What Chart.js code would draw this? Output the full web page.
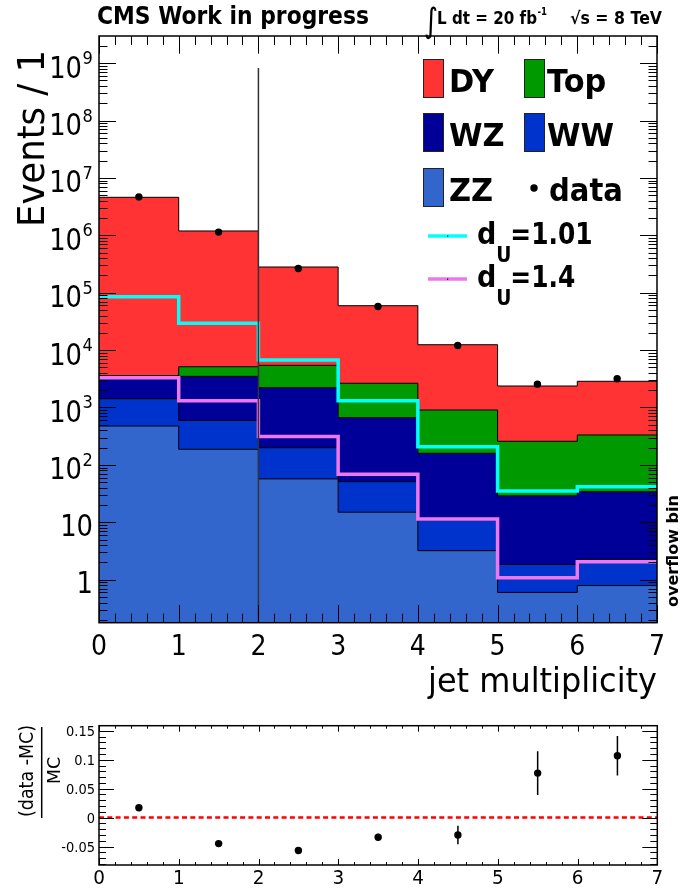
<!DOCTYPE html>
<html>
<head>
<meta charset="utf-8">
<script src="https://cdn.jsdelivr.net/npm/chart.js@4.4.1/dist/chart.umd.min.js"></script>
<style>
    html, body { margin: 0; padding: 0; background: #fff; }
    #wrap { position: relative; width: 680px; height: 888px; overflow: hidden; }
    canvas { position: absolute; left: 0; }
    #main { top: 0; }
    #ratio { top: 700px; }
</style>
</head>
<body>
<div id="wrap">
    <canvas id="main" width="680" height="700"></canvas>
    <canvas id="ratio" width="680" height="188"></canvas>
</div>
<script>
// binning (jet multiplicity, last bin holds overflow)
const binEdges = [0, 1, 2, 3, 4, 5, 6, 7];
const binCenters = [0.5, 1.5, 2.5, 3.5, 4.5, 5.5, 6.5];

// background contributions per bin, stacked bottom -> top
const procNames = ['ZZ', 'WW', 'WZ', 'Top', 'DY'];
const zzCounts  = [476, 187, 57, 15, 3.2, 0.60, 0.79];
const wwCounts  = [944, 411, 142, 36, 7.8, 1.25, 1.48];
const wzCounts  = [2160, 2890, 2010, 613, 148, 27, 31.7];
const topCounts = [0, 1640, 3230, 1980, 745, 229, 298];
const dyCounts  = [4.59e6, 1.185e6, 2.75e5, 5.67e4, 11500, 2110, 2530];

// observed data
const dataCounts = [4.67e6, 1.137e6, 2.64e5, 5.74e4, 12030, 2550, 3170];

// unparticle signals
const sigNames = ['1.01', '1.4'];
const sig101 = [85000, 29300, 6720, 1313, 207, 35, 41.7];
const sig14  = [3300, 1310, 311, 69, 11.4, 1.08, 2.06];

// cut marker at 2 jets
const cutX = 2;
const cutTop = 8.2e8;

// ratio panel (data - MC) / MC
const ratioVals = [0.017, -0.045, -0.057, -0.034, -0.030, 0.077, 0.107];
const ratioErrs = [0.002, 0.003, 0.004, 0.006, 0.016, 0.038, 0.034];
const ratioTickVals = [-0.05, 0, 0.05, 0.1, 0.15];
const ratioTickLabels = ['-0.05', '0', '0.05', '0.1', '0.15'];
const refLevel = 0;

const FONT = '"DejaVu Sans", "Liberation Sans", sans-serif';

// step histogram points: value of bin i holds from edge i to edge i+1
function stepPts(vals) {
    const pts = vals.map((v, i) => ({ x: binEdges[i], y: v }));
    pts.push({ x: binEdges[binEdges.length - 1], y: vals[vals.length - 1] });
    return pts;
}

// cumulative stack
const layers = [zzCounts, wwCounts, wzCounts, topCounts, dyCounts];
const stacks = [];
layers.forEach((arr, k) => {
    stacks.push(arr.map((v, i) => v + (k ? stacks[k - 1][i] : 0)));
});
const procColors = ['#3366cc', '#0033cc', '#000099', '#009900', '#ff3333'];

function txt(ctx, s, x, y, size, opts = {}) {
    ctx.save();
    ctx.font = (opts.bold ? 'bold ' : '') + size + 'px ' + FONT;
    ctx.translate(x, y);
    if (opts.rot) ctx.rotate(opts.rot);
    const w = ctx.measureText(s).width;
    const sx = opts.w ? opts.w / w : (opts.sx || 1);
    ctx.scale(sx, 1);
    ctx.textAlign = opts.align || 'left';
    ctx.textBaseline = 'alphabetic';
    ctx.fillStyle = '#000';
    ctx.fillText(s, 0, 0);
    ctx.restore();
    return w * sx;
}

const procDatasets = procNames.map((name, k) => ({
    label: name,
    data: stepPts(stacks[k]),
    stepped: true,
    borderColor: '#000',
    borderWidth: 1,
    backgroundColor: procColors[k],
    fill: 'start',
    pointRadius: 0,
}));

const mainDeco = {
    id: 'mainDeco',
    afterDraw(chart) {
        const { ctx, chartArea: a, scales: { x, y } } = chart;
        ctx.save();
        ctx.strokeStyle = '#000';
        ctx.lineWidth = 1;
        ctx.beginPath();
        for (let i = 0; i <= 35; i++) {
            const px = Math.round(x.getPixelForValue(i / 5)) + 0.5;
            const len = i % 5 === 0 ? 17.7 : 9;
            ctx.moveTo(px, a.bottom); ctx.lineTo(px, a.bottom - len);
            ctx.moveTo(px, a.top); ctx.lineTo(px, a.top + len);
        }
        for (let e = -1; e <= 9; e++) {
            for (let k = 1; k <= 9; k++) {
                const v = k * Math.pow(10, e);
                if (v < y.min || v > y.max) continue;
                const py = Math.round(y.getPixelForValue(v)) + 0.5;
                const len = k === 1 ? 17 : 8.5;
                ctx.moveTo(a.left, py); ctx.lineTo(a.left + len, py);
                ctx.moveTo(a.right, py); ctx.lineTo(a.right - len, py);
            }
        }
        ctx.stroke();
        ctx.lineWidth = 1.5;
        ctx.strokeRect(a.left, a.top, a.right - a.left, a.bottom - a.top);

        // y labels
        for (let e = 0; e <= 9; e++) {
            const py = y.getPixelForValue(Math.pow(10, e));
            if (e < 2) {
                txt(ctx, e === 0 ? '1' : '10', 93, py + 13.5, 30, { align: 'right', sx: 0.86 });
            } else {
                txt(ctx, '10', 82, py + 14.5, 30, { align: 'right', sx: 0.86 });
                txt(ctx, String(e), 82.5, py + 1, 18, { sx: 0.9 });
            }
        }
        // x labels
        binEdges.forEach(v => {
            txt(ctx, String(v), x.getPixelForValue(v), 655, 28, { align: 'center', sx: 0.9 });
        });
        txt(ctx, 'jet multiplicity', 657, 692, 33, { align: 'right', w: 229 });
        txt(ctx, 'Events / 1', 44, 227, 38, { rot: -Math.PI / 2, w: 177 });
        txt(ctx, 'overflow bin', 678, 607, 16, { rot: -Math.PI / 2, bold: true, w: 112 });

        // header
        txt(ctx, 'CMS Work in progress', 97, 24, 25, { bold: true, w: 272 });
        txt(ctx, '\u222B', 424, 32, 34, { sx: 0.8 });
        txt(ctx, 'L dt = 20 fb', 437, 24, 17, { bold: true, w: 100 });
        txt(ctx, '-1', 537.5, 15, 11, { bold: true, w: 9.5 });
        txt(ctx, '\u221As = 8 TeV', 570, 24, 17, { bold: true, w: 92 });

        // legend
        const ds = chart.data.datasets;
        const byLabel = l => ds.find(d => d.label === l);
        const boxes = [
            ['DY', 423, 59, 449], ['Top', 524, 59, 547],
            ['WZ', 423, 113, 449], ['WW', 524, 113, 547],
            ['ZZ', 423, 168, 449],
        ];
        boxes.forEach(([lab, bx, by, tx]) => {
            ctx.fillStyle = byLabel(lab).backgroundColor;
            ctx.fillRect(bx, by, 20, 38);
            ctx.lineWidth = 1;
            ctx.strokeStyle = '#222';
            ctx.strokeRect(bx + 0.5, by + 0.5, 20, 38);
            txt(ctx, lab, tx, by + 33, 32, { bold: true, sx: 0.95 });
        });
        ctx.fillStyle = '#000';
        ctx.beginPath();
        ctx.arc(534, 188, 3.7, 0, Math.PI * 2);
        ctx.fill();
        txt(ctx, 'data', 549, 201, 32, { bold: true, w: 74 });

        [[sigNames[0], 236, 244], [sigNames[1], 279, 287]].forEach(([nm, ly, base], j) => {
            const d = byLabel('dU=' + nm);
            ctx.strokeStyle = d.borderColor;
            ctx.lineWidth = 3.3;
            ctx.beginPath();
            ctx.moveTo(428, ly); ctx.lineTo(467, ly);
            ctx.stroke();
            ctx.fillStyle = '#000';
            ctx.fillRect(447, ly - 0.5, 1.2, 1.2);
            let cx = 477;
            cx += txt(ctx, 'd', cx, base, 30, { bold: true, sx: 0.9 });
            txt(ctx, 'U', cx, base + 18, 22, { bold: true, sx: 0.85 });
            cx += 14;
            txt(ctx, '=' + nm, cx, base, 30, { bold: true, sx: 0.83 });
        });
        ctx.restore();
    }
};

new Chart(document.getElementById('main'), {
    type: 'line',
    data: {
        datasets: [
            {
                label: 'cut',
                data: [{ x: cutX, y: 0.1 }, { x: cutX, y: cutTop }],
                borderColor: '#333',
                borderWidth: 1.5,
                pointRadius: 0,
                fill: false,
            },
            {
                label: 'dU=' + sigNames[0],
                data: stepPts(sig101),
                stepped: true,
                borderColor: '#00ffff',
                borderWidth: 3.5,
                pointRadius: 0,
                fill: false,
            },
            {
                label: 'dU=' + sigNames[1],
                data: stepPts(sig14),
                stepped: true,
                borderColor: '#ee77ee',
                borderWidth: 3.5,
                pointRadius: 0,
                fill: false,
            },
            {
                label: 'data',
                data: binCenters.map((c, i) => ({ x: c, y: dataCounts[i] })),
                showLine: false,
                pointRadius: 3.7,
                pointBackgroundColor: '#000',
                pointBorderWidth: 0,
            },
            ...procDatasets,
        ]
    },
    options: {
        responsive: false,
        animation: false,
        devicePixelRatio: 1,
        layout: { padding: { left: 99, top: 36, right: 23, bottom: 77.3 } },
        plugins: { legend: { display: false }, tooltip: { enabled: false } },
        scales: {
            x: { type: 'linear', min: 0, max: 7, display: false },
            y: { type: 'logarithmic', min: 0.178, max: 2.97e9, display: false }
        }
    },
    plugins: [mainDeco]
});

// ratio panel
const ratioDeco = {
    id: 'ratioDeco',
    beforeDatasetsDraw(chart) {
        const { ctx, scales: { x, y } } = chart;
        ctx.save();
        ctx.strokeStyle = '#000';
        ctx.lineWidth = 1.5;
        ctx.beginPath();
        binCenters.forEach((c, i) => {
            const px = x.getPixelForValue(c);
            ctx.moveTo(px, y.getPixelForValue(ratioVals[i] - ratioErrs[i]));
            ctx.lineTo(px, y.getPixelForValue(ratioVals[i] + ratioErrs[i]));
        });
        ctx.stroke();
        ctx.restore();
    },
    afterDraw(chart) {
        const { ctx, chartArea: a, scales: { x, y } } = chart;
        ctx.save();
        ctx.strokeStyle = '#000';
        ctx.lineWidth = 1;
        ctx.beginPath();
        for (let i = 0; i <= 35; i++) {
            const px = Math.round(x.getPixelForValue(i / 5)) + 0.5;
            const len = i % 5 === 0 ? 6 : 3;
            ctx.moveTo(px, a.bottom); ctx.lineTo(px, a.bottom - len);
            ctx.moveTo(px, a.top); ctx.lineTo(px, a.top + len);
        }
        for (let i = -8; i <= 15; i++) {
            const py = Math.round(y.getPixelForValue(i / 100)) + 0.5;
            const len = i % 5 === 0 ? 15 : 7;
            ctx.moveTo(a.left, py); ctx.lineTo(a.left + len, py);
            ctx.moveTo(a.right, py); ctx.lineTo(a.right - len, py);
        }
        ctx.stroke();
        ctx.lineWidth = 1.5;
        ctx.strokeRect(a.left, a.top, a.right - a.left, a.bottom - a.top);

        ratioTickVals.forEach((v, i) => {
            txt(ctx, ratioTickLabels[i], 95, y.getPixelForValue(v) + 5, 14, { align: 'right', sx: 0.93 });
        });
        binEdges.forEach(v => {
            txt(ctx, String(v), x.getPixelForValue(v), 184, 20, { align: 'center', sx: 0.92 });
        });
        txt(ctx, '(data -MC)', 33, 71, 19, { rot: -Math.PI / 2, align: 'center', w: 92 });
        ctx.lineWidth = 1.5;
        ctx.beginPath();
        ctx.moveTo(41.7, 27); ctx.lineTo(41.7, 118);
        ctx.stroke();
        txt(ctx, 'MC', 60, 70.5, 18, { rot: -Math.PI / 2, align: 'center', w: 27 });
        ctx.restore();
    }
};

new Chart(document.getElementById('ratio'), {
    type: 'line',
    data: {
        datasets: [
            {
                label: 'ratio',
                data: binCenters.map((c, i) => ({ x: c, y: ratioVals[i] })),
                showLine: false,
                pointRadius: 3.7,
                pointBackgroundColor: '#000',
                pointBorderWidth: 0,
            },
            {
                label: 'zero',
                data: [{ x: binEdges[0], y: refLevel }, { x: binEdges[binEdges.length - 1], y: refLevel }],
                borderColor: '#ff0000',
                borderWidth: 2.5,
                borderDash: [5, 3.3],
                pointRadius: 0,
                fill: false,
            }
        ]
    },
    options: {
        responsive: false,
        animation: false,
        devicePixelRatio: 1,
        layout: { padding: { left: 99, top: 25.7, right: 22.7, bottom: 23 } },
        plugins: { legend: { display: false }, tooltip: { enabled: false } },
        scales: {
            x: { type: 'linear', min: 0, max: 7, display: false },
            y: { type: 'linear', min: -0.082, max: 0.159, display: false }
        }
    },
    plugins: [ratioDeco]
});
</script>
</body>
</html>
